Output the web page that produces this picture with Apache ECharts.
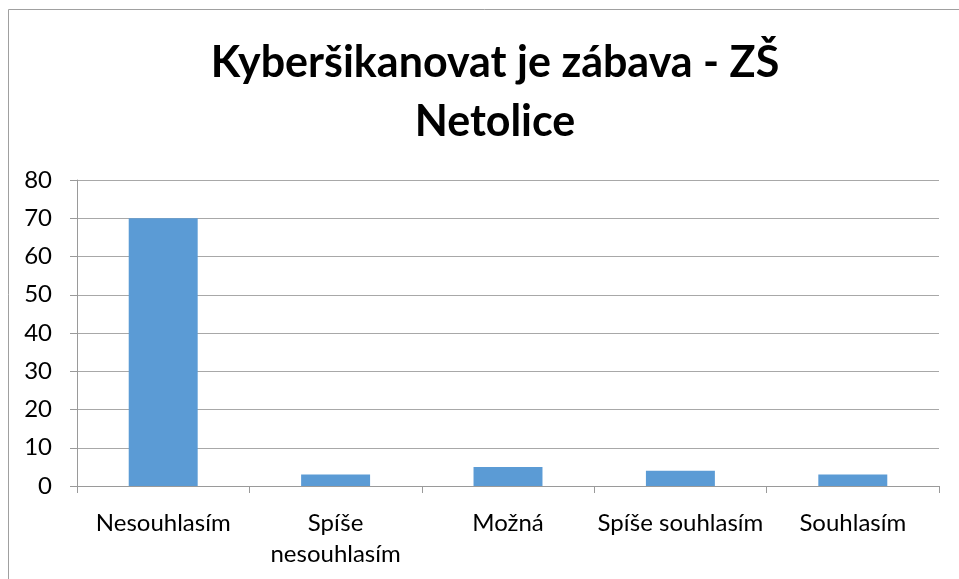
<!DOCTYPE html>
<html><head><meta charset="utf-8">
<script src="https://cdn.jsdelivr.net/npm/echarts@6/dist/echarts.min.js"></script>
<style>html,body{margin:0;padding:0;background:#fff}#c{width:959px;height:579px}</style>
</head><body><div id="c"></div>
<script>
const titleText = "Kyberšikanovat je zábava - ZŠ\nNetolice";
const categories = ["Nesouhlasím", "Spíše nesouhlasím", "Možná", "Spíše souhlasím", "Souhlasím"];
const values = [70, 3, 5, 4, 3];
const yMin = 0, yMax = 80, yStep = 10;

const chart = echarts.init(document.getElementById('c'));
chart.setOption({
  animation: false,
  backgroundColor: '#fff',
  textStyle: { fontFamily: 'Lato' },
  graphic: [{
    type: 'rect', shape: { x: 8.5, y: 9.5, width: 1000, height: 700 },
    style: { fill: 'none', stroke: '#a0a0a0', lineWidth: 1 }, silent: true
  }],
  title: {
    text: titleText, left: 490, top: 29, textAlign: 'center',
    textStyle: { fontFamily: 'Lato', fontWeight: 'bold', fontSize: 43, lineHeight: 59, color: '#000' }
  },
  grid: { left: 77, right: 20, top: 180, bottom: 93, containLabel: false },
  xAxis: {
    type: 'category', data: categories,
    axisLine: { lineStyle: { color: '#9a9a9a', width: 1 } },
    axisTick: { show: true, length: 7, lineStyle: { color: '#9a9a9a' } },
    axisLabel: { fontFamily: 'Lato', fontSize: 24, color: '#000', margin: 22, lineHeight: 31,
      interval: 0,
      formatter: v => v.length > 16 ? v.replace(' ', '\n') : v }
  },
  yAxis: {
    type: 'value', min: yMin, max: yMax, interval: yStep,
    axisLine: { show: true, lineStyle: { color: '#9a9a9a' } },
    axisTick: { show: true, length: 7, lineStyle: { color: '#9a9a9a' } },
    splitLine: { lineStyle: { color: '#a8a8a8', width: 1 } },
    axisLabel: { fontFamily: 'Lato', fontSize: 24, color: '#000', margin: 25 }
  },
  series: [{
    type: 'bar', data: values, barWidth: '40%',
    itemStyle: { color: '#5b9bd5' }
  }]
});
</script></body></html>
